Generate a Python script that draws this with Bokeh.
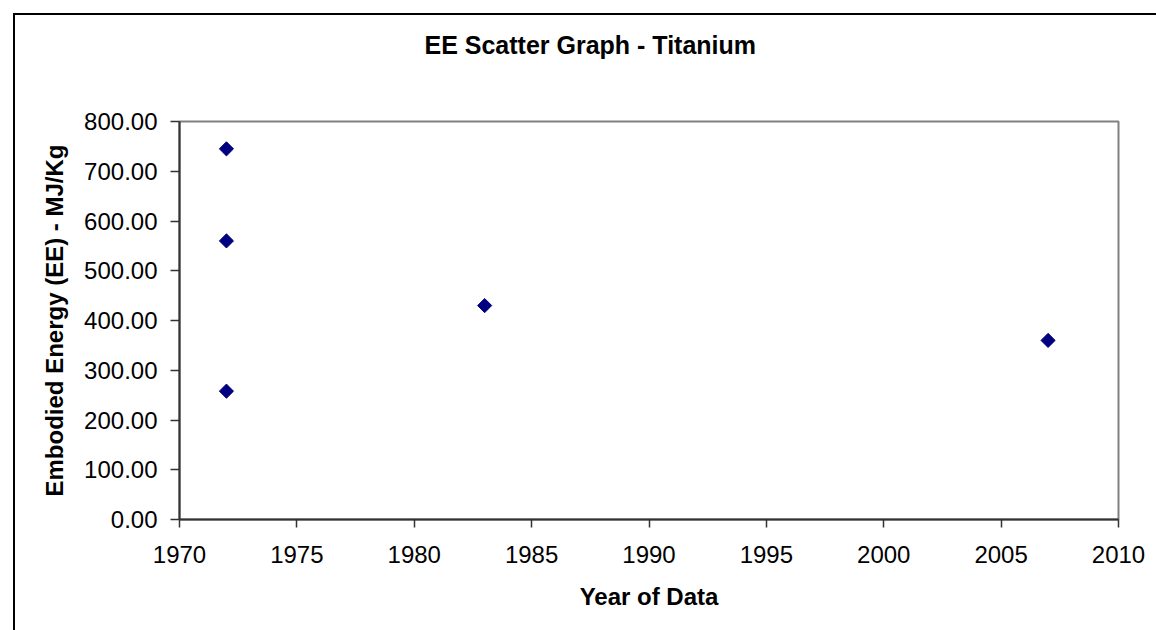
import numpy as np
from bokeh.plotting import figure
from bokeh.models import (ColumnDataSource, FixedTicker, NumeralTickFormatter,
                          Range1d, Title)
from bokeh.embed import file_html
from bokeh.resources import INLINE

# Data
years = [1972, 1972, 1972, 1983, 2007]
energy = [745, 560, 258, 430, 360]
x_ticks = [1970, 1975, 1980, 1985, 1990, 1995, 2000, 2005, 2010]
y_ticks = [0, 100, 200, 300, 400, 500, 600, 700, 800]
title_text = "EE Scatter Graph - Titanium"
x_label = "Year of Data"
y_label = "Embodied Energy (EE) - MJ/Kg"

FONT = "Liberation Sans"

p = figure(width=1156, height=630, output_backend="svg", toolbar_location=None,
           x_range=Range1d(1970, 2010), y_range=Range1d(0, 800),
           min_border_left=179, min_border_right=38,
           min_border_top=121, min_border_bottom=111)

# outer chart border (left and top edges visible in the window)
p.styles = {
    "background": ("linear-gradient(#000, #000) 13px 13px / 2px 100% no-repeat, "
                   "linear-gradient(#000, #000) 13px 13px / 100% 2px no-repeat, "
                   "#ffffff"),
}
p.border_fill_alpha = 0
p.background_fill_color = "white"
p.xgrid.visible = False
p.ygrid.visible = False
p.outline_line_color = "#808080"
p.outline_line_width = 2

# spacer between the frame and the title
spacer = Title(text=" ", text_font_size="1px", standoff=60)
p.add_layout(spacer, "above")

t = Title(text=title_text, align="left", offset=245, standoff=0,
          text_font=FONT, text_font_size="25px", text_font_style="bold",
          text_color="black")
p.add_layout(t, "above")

src = ColumnDataSource(dict(x=years, y=energy))
p.scatter("x", "y", source=src, marker="square", angle=np.pi / 4, size=10,
          fill_color="#000080", line_color="#000080")

for ax in (p.xaxis[0], p.yaxis[0]):
    ax.axis_line_color = "#333333"
    ax.axis_line_width = 2
    ax.major_tick_line_color = "#333333"
    ax.major_tick_line_width = 1.5
    ax.minor_tick_line_color = None
    ax.major_tick_in = 0
    ax.major_label_text_font = FONT
    ax.major_label_text_font_size = "24px"
    ax.major_label_text_color = "black"
    ax.axis_label_text_font = FONT
    ax.axis_label_text_font_size = "24px"
    ax.axis_label_text_font_style = "bold"
    ax.axis_label_text_color = "black"

p.xaxis[0].ticker = FixedTicker(ticks=x_ticks)
p.xaxis[0].formatter = NumeralTickFormatter(format="0")
p.xaxis[0].major_tick_out = 8
p.xaxis[0].major_label_standoff = 18
p.xaxis[0].axis_label = x_label
p.xaxis[0].axis_label_standoff = 17

p.yaxis[0].ticker = FixedTicker(ticks=y_ticks)
p.yaxis[0].formatter = NumeralTickFormatter(format="0.00")
p.yaxis[0].major_tick_out = 9
p.yaxis[0].major_label_standoff = 13
p.yaxis[0].axis_label = y_label
p.yaxis[0].axis_label_standoff = 13

open("out.html", "w").write(file_html(p, INLINE))
